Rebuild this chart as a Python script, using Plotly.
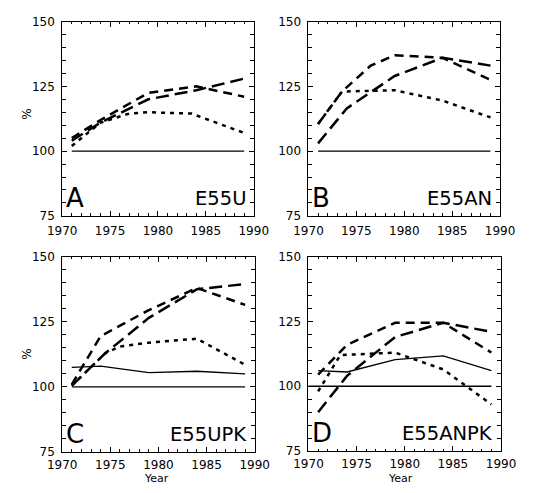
import plotly.graph_objects as go

# ---------------- data ----------------
# Panel A  (E55U)
A_long_years = [1971, 1974, 1979, 1984, 1989]
A_long = [104, 111, 120, 123.5, 128]
A_med_years = [1971, 1974, 1979, 1984, 1989]
A_med = [105, 112, 122.5, 125, 121]
A_dot_years = [1971, 1974, 1977, 1979, 1983.5, 1989]
A_dot = [102, 111, 114.5, 115, 114.5, 107]
A_base_years = [1971, 1989]
A_base = [100, 100]

# Panel B  (E55AN)
B_long_years = [1971, 1974, 1979, 1984, 1989]
B_long = [103, 116.5, 129, 136, 133]
B_med_years = [1971, 1973.5, 1976.5, 1979, 1984, 1989]
B_med = [110.5, 123, 133, 137, 136, 127.5]
B_dot_years = [1971, 1973.5, 1979, 1984, 1989]
B_dot = [110.5, 123, 123.5, 119.5, 113]
B_base_years = [1971, 1989]
B_base = [100, 100]

# Panel C  (E55UPK)
C_long_years = [1971, 1974.5, 1979, 1984, 1989]
C_long = [100.5, 113, 126.5, 137.5, 139.5]
C_med_years = [1971, 1974, 1979, 1984, 1989]
C_med = [101, 119.5, 129.5, 138, 131.5]
C_dot_years = [1971, 1974.5, 1976, 1979, 1984, 1989]
C_dot = [100.5, 113, 115.5, 117, 118.5, 108.5]
C_solid_years = [1971, 1974, 1979, 1984, 1989]
C_solid = [107.5, 108, 105.5, 106, 105]
C_base_years = [1971, 1989]
C_base = [100, 100]

# Panel D  (E55ANPK)
D_long_years = [1971, 1974, 1979, 1984, 1989]
D_long = [90, 104, 119, 124.5, 121]
D_med_years = [1971, 1974, 1979, 1984, 1989]
D_med = [104.5, 116, 124.5, 124.5, 113]
D_dot_years = [1971, 1973.3, 1979, 1984, 1989]
D_dot = [98, 112, 113, 106.5, 93]
D_solid_years = [1971, 1974, 1979, 1984, 1989]
D_solid = [106, 105.5, 110.25, 111.75, 106]
D_base_years = [1970, 1989]
D_base = [100, 100]

PANEL_LETTERS = ["A", "B", "C", "D"]
PANEL_NAMES = ["E55U", "E55AN", "E55UPK", "E55ANPK"]
X_TITLE = "Year"
Y_TITLE = "%"

# ---------------- figure ----------------
W, H = 533, 493
FONT = "DejaVu Sans, Verdana, sans-serif"

LONG = "13px,6px"
MED = "9px,6px"
DOT = "4px,5px"

fig = go.Figure()

def add(xs, ys, dash, width, ax):
    fig.add_trace(go.Scatter(
        x=xs, y=ys, mode="lines",
        line=dict(color="black", width=width, dash=dash),
        xaxis="x" + ax, yaxis="y" + ax, showlegend=False, hoverinfo="skip"))

panels = [
    ("", [(A_base_years, A_base, "solid", 1.3), (A_dot_years, A_dot, DOT, 2.5),
          (A_long_years, A_long, LONG, 2.5), (A_med_years, A_med, MED, 2.5)]),
    ("2", [(B_base_years, B_base, "solid", 1.3), (B_dot_years, B_dot, DOT, 2.5),
           (B_long_years, B_long, LONG, 2.5), (B_med_years, B_med, MED, 2.5)]),
    ("3", [(C_base_years, C_base, "solid", 1.3), (C_solid_years, C_solid, "solid", 1.3),
           (C_dot_years, C_dot, DOT, 2.5), (C_long_years, C_long, LONG, 2.5),
           (C_med_years, C_med, MED, 2.5)]),
    ("4", [(D_base_years, D_base, "solid", 1.3), (D_solid_years, D_solid, "solid", 1.3),
           (D_dot_years, D_dot, DOT, 2.5), (D_long_years, D_long, LONG, 2.5),
           (D_med_years, D_med, MED, 2.5)]),
]
for ax, series in panels:
    for xs, ys, dash, w in series:
        add(xs, ys, dash, w, ax)

# pixel boxes of plot areas: (left, right, top, bottom)
boxes = [(50, 253, 15, 215), (311, 514, 15, 215),
         (50, 254, 257, 458), (311, 515, 257, 457)]

layout = dict(
    width=W, height=H, autosize=False,
    margin=dict(l=0, r=0, t=0, b=0),
    paper_bgcolor="white", plot_bgcolor="white",
    font=dict(family=FONT, color="black", size=12),
    showlegend=False,
)

tickfont = dict(family=FONT, size=12, color="black")
annotations = []
for i, (l, r, t, b) in enumerate(boxes):
    sfx = "" if i == 0 else str(i + 1)
    layout["xaxis" + sfx] = dict(
        domain=[l / W, r / W], anchor="y" + sfx,
        range=[1970, 1990], tick0=1970, dtick=5,
        ticks="inside", ticklen=5, tickwidth=1, tickcolor="black",
        minor=dict(dtick=1, ticks="inside", ticklen=2.5, tickwidth=1, tickcolor="black"),
        showline=True, linecolor="black", linewidth=1, mirror="ticks",
        showgrid=False, zeroline=False, tickfont=tickfont,
        ticklabelstandoff=(4 if i < 2 else 2),
    )
    layout["yaxis" + sfx] = dict(
        domain=[1 - b / H, 1 - t / H], anchor="x" + sfx,
        range=[75, 150], tick0=75, dtick=25,
        ticks="inside", ticklen=5, tickwidth=1, tickcolor="black",
        minor=dict(dtick=5, ticks="inside", ticklen=4, tickwidth=1, tickcolor="black"),
        showline=True, linecolor="black", linewidth=1, mirror="ticks",
        showgrid=False, zeroline=False, tickfont=tickfont, ticklabelstandoff=4,
    )
    xr = "x" + sfx
    yr = "y" + sfx
    annotations.append(dict(x=1970.2, y=81.8, xref=xr, yref=yr, text=PANEL_LETTERS[i],
                            showarrow=False, xanchor="left", yanchor="middle",
                            font=dict(family=FONT, size=26, color="black")))
    annotations.append(dict(x=1989.4, y=81.8, xref=xr, yref=yr, text=PANEL_NAMES[i],
                            showarrow=False, xanchor="right", yanchor="middle",
                            font=dict(family=FONT, size=19.5, color="black")))

# y titles (left column)
for cy in (110, 357):
    annotations.append(dict(x=12.5 / W, y=1 - cy / H, xref="paper", yref="paper",
                            text=Y_TITLE, showarrow=False, textangle=-90,
                            xanchor="center", yanchor="middle",
                            font=dict(family=FONT, size=12, color="black")))
# x titles (bottom row)
for cx in (150, 408):
    annotations.append(dict(x=cx / W, y=0, xref="paper", yref="paper",
                            text=X_TITLE, showarrow=False,
                            xanchor="center", yanchor="bottom", borderpad=0,
                            font=dict(family=FONT, size=11, color="black")))
layout["annotations"] = annotations

fig.update_layout(**layout)
fig.write_html("out.html")
